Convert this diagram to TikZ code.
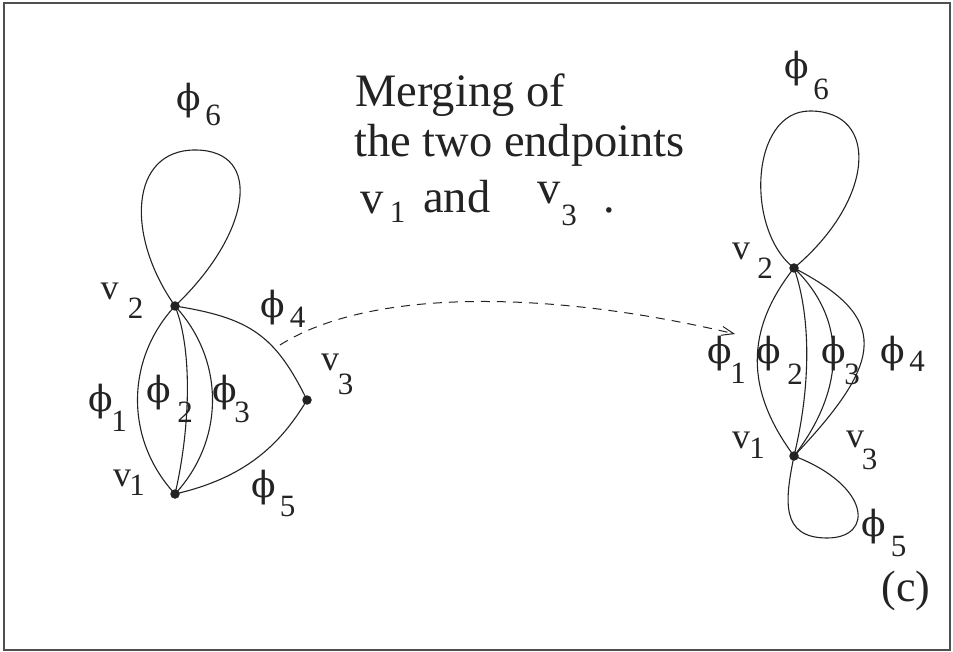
\documentclass[tikz,border=0pt]{standalone}
\usepackage{fontspec}
\setmainfont{Liberation Serif}
\newfontfamily\phifont{DejaVu Serif}
\usetikzlibrary{arrows.meta}
\definecolor{ink}{RGB}{35,35,35}
\tikzset{
  dot/.style={circle,fill=ink,inner sep=0pt,minimum size=9.5pt},
  edge/.style={draw=ink,line width=1.1pt},
  bigtxt/.style={font=\fontsize{46.5}{50}\selectfont,inner sep=0pt,text=ink},
  phitxt/.style={font=\phifont\fontsize{36}{40}\selectfont,inner sep=0pt,text=ink},
  vtxt/.style={font=\fontsize{36}{40}\selectfont,inner sep=0pt,text=ink},
  numtxt/.style={font=\fontsize{31}{36}\selectfont,inner sep=0pt,text=ink},
  arrowline/.style={draw=ink,line width=1pt,dash pattern=on 9pt off 7pt,-{Straight Barb[length=12pt,width=9pt]}},
}
\begin{document}
\begin{tikzpicture}[x=1pt,y=-1pt]
\useasboundingbox (0,0) rectangle (953,652);
\draw[draw=ink!80,line width=1.6pt] (4,3) rectangle (950,650);

% ---------- left graph ----------
\node[dot] (L2) at (175,306) {};
\node[dot] (L1) at (175,494) {};
\node[dot] (L3) at (307,400) {};
\draw[edge] (L2.center) .. controls (125,235) and (130,150) .. (195,150)
            .. controls (265,150) and (250,235) .. (L2.center);
\draw[edge] (L2.center) .. controls (125,360) and (125,440) .. (L1.center);
\draw[edge] (L2.center) .. controls (193,350) and (190,430) .. (L1.center);
\draw[edge] (L2.center) .. controls (225,360) and (225,440) .. (L1.center);
\draw[edge] (L2.center) .. controls (250,318) and (275,335) .. (L3.center);
\draw[edge] (L1.center) .. controls (245,478) and (280,445) .. (L3.center);

\node[phitxt] (Lp6) at (188.5,101) {ϕ};  \node[numtxt] (Lp6n) at (213,115) {6};
\node[vtxt]   (Lv2) at (109.5,291.5) {v}; \node[numtxt] (Lv2n) at (135.5,308.5) {2};
\node[phitxt] (Lp4) at (272.5,307.5) {ϕ}; \node[numtxt] (Lp4n) at (297.5,317) {4};
\node[vtxt]   (Lv3) at (330,362.5) {v};   \node[numtxt] (Lv3n) at (345.5,384) {3};
\node[phitxt] (Lp1) at (100.5,402) {ϕ};   \node[numtxt] (Lp1n) at (119,421) {1};
\node[phitxt] (Lp2) at (158.5,392.5) {ϕ}; \node[numtxt] (Lp2n) at (185,412.5) {2};
\node[phitxt] (Lp3) at (224.5,392.5) {ϕ}; \node[numtxt] (Lp3n) at (242,412.5) {3};
\node[vtxt]   (Lv1) at (122,478) {v};     \node[numtxt] (Lv1n) at (137,485.5) {1};
\node[phitxt] (Lp5) at (264,488) {ϕ};     \node[numtxt] (Lp5n) at (287.5,506) {5};

% ---------- text ----------
\node[bigtxt,anchor=base west] (t1) at (355,107) {Merging of};
\node[bigtxt,anchor=base west] (t2) at (354,157) {the two endpoints};
\node[bigtxt] (t3v) at (372.5,203) {v};
\node[numtxt] (t3n) at (397.5,212.5) {1};
\node[bigtxt,anchor=base west] (t3and) at (423,213) {and};
\node[bigtxt] (t4v) at (549,193) {v};
\node[numtxt] (t4n) at (569,215) {3};
\node[bigtxt,anchor=base west] (t4dot) at (603,213) {.};

% ---------- dashed arrow ----------
\coordinate (aS) at (280,345);
\coordinate (aE) at (735,334);
\draw[arrowline] (aS) .. controls (370,288) and (550,290) .. (aE);

% ---------- right graph ----------
\node[dot] (R2) at (794,268) {};
\node[dot] (R1) at (794,456) {};
\draw[edge] (R2.center) .. controls (745,230) and (750,111) .. (810,111)
            .. controls (880,111) and (875,200) .. (R2.center);
\draw[edge] (R2.center) .. controls (745,330) and (745,390) .. (R1.center);
\draw[edge] (R2.center) .. controls (812,320) and (810,390) .. (R1.center);
\draw[edge] (R2.center) .. controls (848,320) and (845,390) .. (R1.center);
\draw[edge] (R2.center) .. controls (890,318) and (885,360) .. (R1.center);
\draw[edge] (R1.center) .. controls (785,500) and (780,538) .. (827,538)
            .. controls (875,538) and (870,485) .. (R1.center);

\node[phitxt] (Rp6) at (797,69) {ϕ};      \node[numtxt] (Rp6n) at (821,89) {6};
\node[vtxt]   (Rv2) at (741,251) {v};     \node[numtxt] (Rv2n) at (765,268) {2};
\node[phitxt] (Rp1) at (720,354) {ϕ};     \node[numtxt] (Rp1n) at (738,373) {1};
\node[phitxt] (Rp2) at (768.5,354) {ϕ};   \node[numtxt] (Rp2n) at (795,374) {2};
\node[phitxt] (Rp3) at (834,354) {ϕ};     \node[numtxt] (Rp3n) at (852,374) {3};
\node[phitxt] (Rp4) at (892.5,354) {ϕ};   \node[numtxt] (Rp4n) at (917,361.5) {4};
\node[vtxt]   (Rv1) at (741,440) {v};     \node[numtxt] (Rv1n) at (757,448.5) {1};
\node[vtxt]   (Rv3) at (855,439) {v};     \node[numtxt] (Rv3n) at (869.5,459) {3};
\node[phitxt] (Rp5) at (873.5,527) {ϕ};   \node[numtxt] (Rp5n) at (898.5,546) {5};
\node[font=\fontsize{44}{48}\selectfont,inner sep=0pt,text=ink] (lc) at (906,591) {(c)};
\end{tikzpicture}
\end{document}
